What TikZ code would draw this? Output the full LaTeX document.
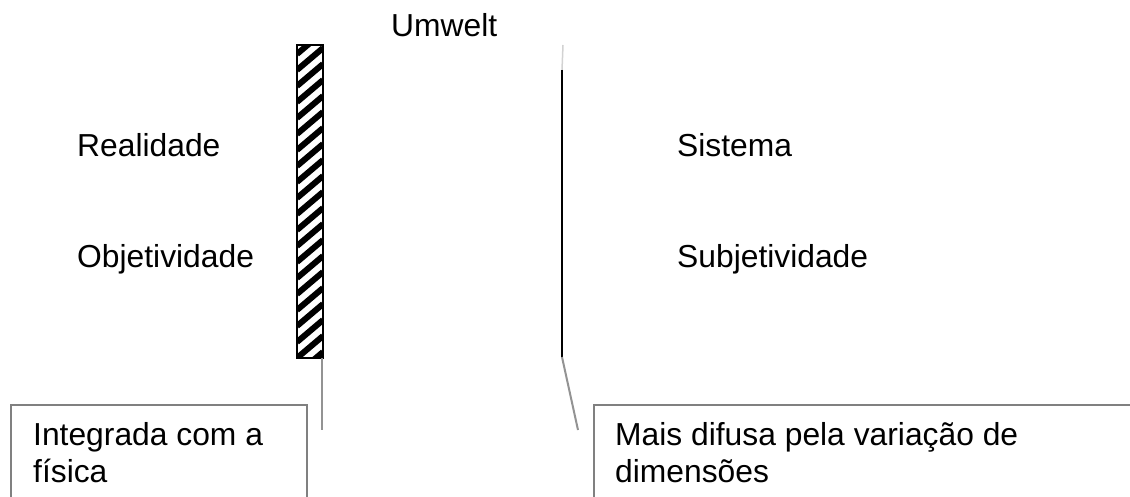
\documentclass[tikz,border=0pt]{standalone}
\usepackage{fontspec}
\setmainfont{Liberation Sans}

\begin{document}
\begin{tikzpicture}[x=1pt,y=-1pt,
  word/.style={font=\fontsize{31.8}{38}\selectfont, inner sep=0pt, anchor=base west},
  frame/.style={draw=gray, line width=2pt, inner sep=0pt, outer sep=0pt, anchor=north west},
  leader/.style={draw=gray!85, line width=2pt},
  hatchbar/.style={draw, line width=2pt, inner sep=0pt, outer sep=0pt, anchor=north west,
    minimum width=26pt, minimum height=313pt,
    path picture={
      \foreach \k in {-2,...,21}
        \draw [line width=6pt] ([yshift=\k*16pt]path picture bounding box.south west) -- ++(26,-22);
    }}]
\clip (0,0) rectangle (1130,497);
% texts
\node [word] (umwelt) at (391,37) {Umwelt};
\node [word] (real) at (77,157) {Realidade};
\node [word] (obj) at (77,268) {Objetividade};
\node [word] (sys) at (677,157) {Sistema};
\node [word] (subj) at (677,268) {Subjetividade};
% the two borders
\node [hatchbar] (wall) at (297,45) {};
\coordinate (edgeTop) at (563,45);
\coordinate (edgeA) at (562,70);
\coordinate (edgeB) at (562,357);
\draw [gray!35, line width=1.5pt] (edgeTop) -- (edgeA);
\draw [line width=2pt] (edgeA) -- (edgeB);
% leaders
\coordinate (wallTag) at (322,430);
\coordinate (edgeTag) at (578,430);
\draw [leader] (wall.south east) ++(-1,0) -- (wallTag);
\draw [leader] (edgeB) -- (edgeTag);
% boxes
\node [frame, minimum width=296pt, minimum height=140pt] (physBox) at (11,405) {};
\node [frame, minimum width=600pt, minimum height=140pt] (sysBox) at (594,405) {};
\node [word] (physA) at (33,445) {Integrada com a};
\node [word] (physB) at (33,482) {física};
\node [word] (sysA) at (615,445) {Mais difusa pela variação de};
\node [word] (sysB) at (615,482) {dimensões};
\end{tikzpicture}
\end{document}
